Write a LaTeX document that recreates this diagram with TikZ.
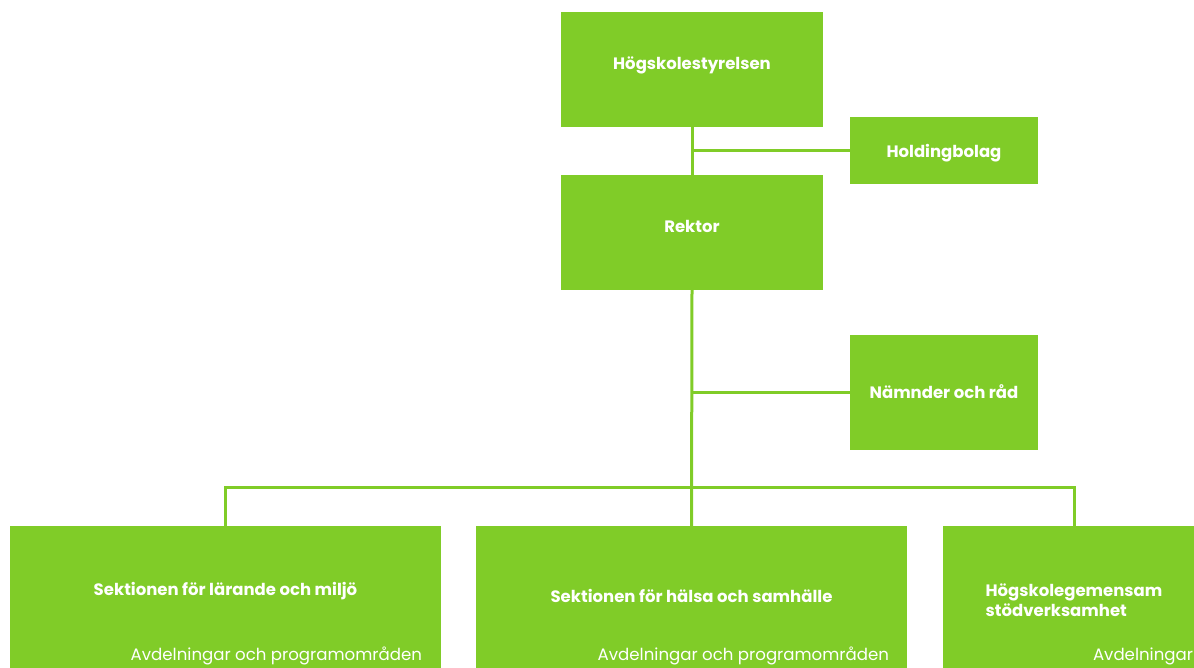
\documentclass[tikz,border=0pt]{standalone}
\usepackage{fontspec}
\setmainfont{Poppins}
\definecolor{orggreen}{HTML}{80CC28}
\begin{document}
\begin{tikzpicture}[
            x=1pt, y=-1pt,
            unit node/.style={rectangle,fill=orggreen,inner sep=0pt},
            top node/.style={unit node,minimum width=262pt,minimum height=115pt},
            side node/.style={unit node,minimum width=188pt},
            section node/.style={unit node,minimum height=160pt,anchor=north},
            title label/.style={text=white,font=\fontsize{16.5}{19.5}\selectfont\bfseries,inner sep=0pt},
            sub label/.style={text=white,font=\fontsize{16.6}{19}\selectfont,inner sep=0pt},
            link/.style={draw=orggreen,line width=3pt},
        ]
            \useasboundingbox (0,0) rectangle (1194,667);
            \clip (0,0) rectangle (1194,667);

            \node[top node] (board) at (692,69.5) {};
            \node[top node] (rector) at (692,232.5) {};
            \node[side node,minimum height=67pt] (holding) at (944,150.5) {};
            \node[side node,minimum height=115pt] (councils) at (944,392.5) {};

            \node[section node,minimum width=431pt] (sec1) at (225.5,526) {};
            \node[section node,minimum width=431pt] (sec2) at (691.5,526) {};
            \node[section node,minimum width=262pt] (sec3) at (1074,526) {};

            \node[title label] (board title) at ([yshift=4pt]board.center) {Högskolestyrelsen};
            \node[title label] (rector title) at ([yshift=6pt]rector.center) {Rektor};
            \node[title label] (holding title) at ([yshift=-3pt]holding.center) {Holdingbolag};
            \node[title label] (councils title) at ([yshift=1pt]councils.center) {Nämnder och råd};

            \node[title label] (sec1 title) at ([yshift=-65pt]sec1.north) {Sektionen för lärande och miljö};
            \node[title label] (sec2 title) at ([yshift=-70pt]sec2.north) {Sektionen för hälsa och samhälle};
            \node[title label,align=left] (sec3 title) at ([yshift=-74pt]sec3.north) {Högskolegemensam\\stödverksamhet};

            \node[sub label,anchor=east] (sec1 sub) at ([xshift=-19pt,yshift=-130pt]sec1.north east) {Avdelningar och programområden};
            \node[sub label,anchor=east] (sec2 sub) at ([xshift=-18pt,yshift=-130pt]sec2.north east) {Avdelningar och programområden};
            \node[sub label,anchor=west] (sec3 sub) at ([xshift=150pt,yshift=-130pt]sec3.north west) {Avdelningar och programområden};

            \coordinate (bus) at (692,487);

            \draw[link] (board.south) -- (rector.north);
            \draw[link] (holding.west) -- (holding.west -| board.south);
            \draw[link] (rector.south) -- (sec2.north);
            \draw[link] (councils.west) -- (councils.west -| rector.south);
            \draw[link] (sec1.north) |- (bus) -| (sec3.north);
        \end{tikzpicture}
\end{document}
